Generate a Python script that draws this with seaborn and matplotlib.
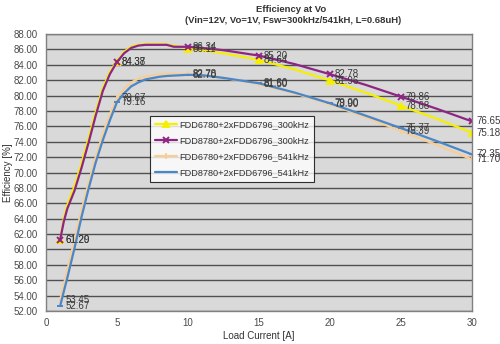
import matplotlib
matplotlib.use("Agg")
import matplotlib.pyplot as plt
import seaborn as sns
import numpy as np

sns.set_style("white")
plt.rcParams["font.family"] = ["Liberation Sans", "DejaVu Sans"]

# Load current [A]
load = [1, 1.25, 1.5, 2, 2.5, 3, 3.5, 4, 4.5, 5, 5.5, 6, 6.5, 7, 8, 8.5, 9, 10,
        11, 12.5, 15, 17.5, 20, 22.5, 25, 27.5, 30]

# Efficiency [%] for each converter configuration
eff_6780_300 = [61.20, 64.0, 65.8, 68.2, 71.2, 74.5, 77.9, 81.0, 83.1, 84.38, 85.7, 86.35, 86.6, 86.7,
                86.7, 86.65, 86.5, 86.11, 85.9, 85.5, 84.64, 83.4, 81.96, 80.4, 78.68, 77.0, 75.18]
eff_8780_300 = [61.29, 63.6, 65.3, 67.6, 70.6, 73.9, 77.4, 80.6, 82.8, 84.37, 85.5, 86.2, 86.5, 86.6,
                86.6, 86.6, 86.35, 86.34, 86.2, 85.9, 85.20, 84.1, 82.78, 81.4, 79.86, 78.3, 76.65]
eff_6780_541 = [53.45, 55.4, 57.3, 61.2, 65.1, 68.7, 72.0, 75.0, 77.6, 79.67, 80.9, 81.7, 82.2, 82.5,
                82.8, 82.85, 82.85, 82.78, 82.7, 82.3, 81.50, 80.3, 78.90, 77.2, 75.39, 73.6, 71.70]
eff_8780_541 = [52.67, 54.5, 56.3, 60.1, 64.2, 67.9, 71.3, 74.2, 76.8, 79.16, 80.3, 81.2, 81.7, 82.1,
                82.45, 82.55, 82.6, 82.70, 82.65, 82.3, 81.60, 80.4, 79.00, 77.4, 75.77, 74.1, 72.35]

names = ["FDD6780+2xFDD6796_300kHz", "FDD8780+2xFDD6796_300kHz",
         "FDD6780+2xFDD6796_541kHz", "FDD8780+2xFDD6796_541kHz"]
series = [eff_6780_300, eff_8780_300, eff_6780_541, eff_8780_541]
colors = ["#F5F000", "#8E2585", "#F7CE95", "#4A86C8"]
markers = ["^", "x", "|", "_"]

# Points that carry a marker and value label
labeled_x = [1, 5, 10, 15, 20, 25, 30]
mark_idx = [load.index(v) for v in labeled_x]

fig = plt.figure(figsize=(5.0, 3.44), dpi=100)
ax = fig.add_axes([0.092, 0.096, 0.852, 0.805])
ax.set_facecolor("#D9D9D9")

for name, vals, c, m in zip(names, series, colors, markers):
    sns.lineplot(x=load, y=vals, ax=ax, color=c, linewidth=1.6, marker=m,
                 markersize=5, markeredgewidth=1.4, markeredgecolor=c,
                 markevery=mark_idx, label=name, sort=False)
    for i in mark_idx:
        ax.annotate(f"{vals[i]:.2f}", (load[i], vals[i]), xytext=(3.5, 0),
                    textcoords="offset points", ha="left", va="center",
                    fontsize=7, color="#3a3a3a")

ax.set_xlim(0, 30)
ax.set_ylim(52, 88)
ax.set_xticks(range(0, 31, 5))
ax.set_yticks(np.arange(52, 88.1, 2))
ax.yaxis.set_major_formatter(matplotlib.ticker.FormatStrFormatter("%.2f"))
ax.grid(axis="y", color="#505050", linewidth=1.0)
ax.set_axisbelow(True)
ax.tick_params(axis="both", labelsize=7, colors="#4a4a4a", length=0)
ax.tick_params(axis="y", pad=6)
ax.tick_params(axis="x", pad=5)
for s in ax.spines.values():
    s.set_color("#808080")
    s.set_linewidth(1.0)

ax.set_xlabel("Load Current [A]", fontsize=7, color="#333333", labelpad=2)
ax.set_ylabel("Efficiency [%]", fontsize=7, color="#333333", labelpad=0.5)

leg = ax.legend(loc="upper left", bbox_to_anchor=(0.244, 0.704),
                borderaxespad=0, fontsize=6.6, frameon=True, fancybox=False,
                handlelength=2.4, labelspacing=0.75, borderpad=0.5,
                handletextpad=0.3)
leg.get_frame().set_edgecolor("#000000")
leg.get_frame().set_linewidth(0.8)
leg.get_frame().set_facecolor("white")
for t in leg.get_texts():
    t.set_color("#333333")

fig.text(0.582, 0.985, "Efficiency at Vo", ha="center", va="top",
         fontsize=6.8, fontweight="bold", color="#333333")
fig.text(0.586, 0.953, "(Vin=12V, Vo=1V, Fsw=300kHz/541kH, L=0.68uH)",
         ha="center", va="top", fontsize=6.8, fontweight="bold", color="#333333")

fig.savefig("out.png", dpi=100)
